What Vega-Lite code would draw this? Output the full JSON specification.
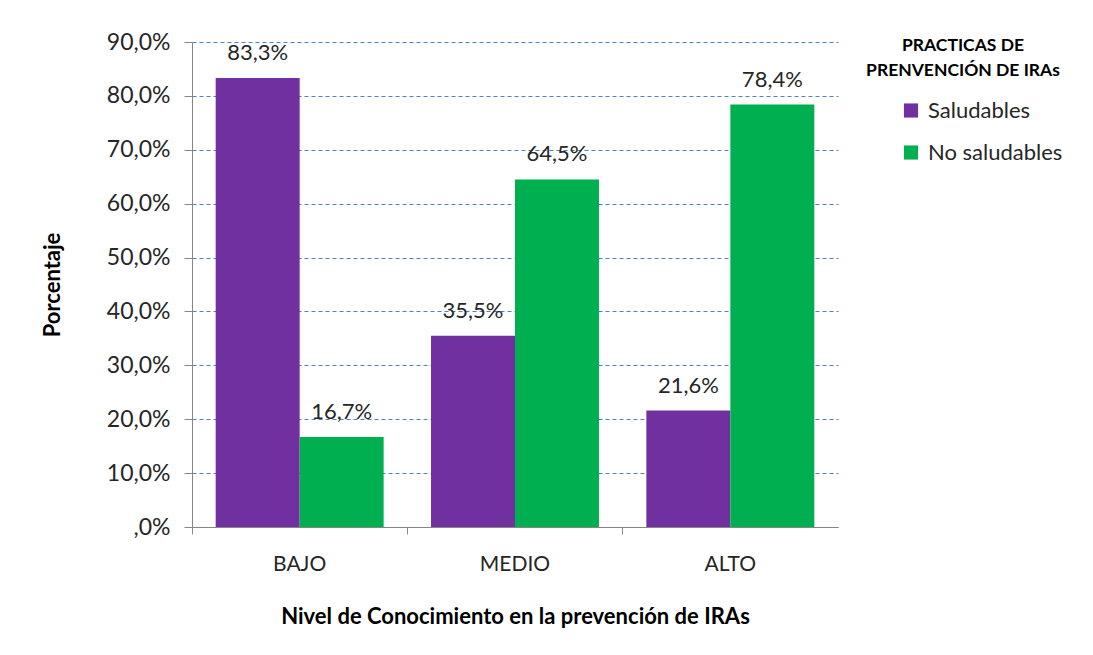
{
  "$schema": "https://vega.github.io/schema/vega-lite/v6.json",
  "width": 646,
  "height": 485,
  "autosize": {"type": "none"},
  "padding": {"left": 192, "top": 42, "right": 255, "bottom": 128},
  "background": "white",
  "config": {
    "font": "Lato",
    "view": {"stroke": null},
    "locale": {"number": {"decimal": ",", "thousands": ".", "grouping": [3], "currency": ["", " €"]}}
  },
  "data": {
    "values": [
      {"nivel": "BAJO", "practica": "Saludables", "valor": 0.833},
      {"nivel": "BAJO", "practica": "No saludables", "valor": 0.167},
      {"nivel": "MEDIO", "practica": "Saludables", "valor": 0.355},
      {"nivel": "MEDIO", "practica": "No saludables", "valor": 0.645},
      {"nivel": "ALTO", "practica": "Saludables", "valor": 0.216},
      {"nivel": "ALTO", "practica": "No saludables", "valor": 0.784}
    ]
  },
  "encoding": {
    "x": {
      "field": "nivel", "type": "nominal", "sort": ["BAJO", "MEDIO", "ALTO"],
      "scale": {"paddingInner": 0.22, "paddingOuter": 0.11},
      "axis": {
        "title": "Nivel de Conocimiento en la prevención de IRAs",
        "titleFontSize": 22, "titleFontWeight": "bold", "titleColor": "#000000",
        "titlePadding": 32,
        "labelAngle": 0, "labelFontSize": 21, "labelColor": "#262626", "labelPadding": 19,
        "domainColor": "#868686", "tickColor": "#868686", "tickSize": 7, "bandPosition": -0.14,
        "grid": false
      }
    },
    "xOffset": {"field": "practica", "type": "nominal", "sort": ["Saludables", "No saludables"], "scale": {"paddingInner": 0, "paddingOuter": 0}},
    "y": {
      "field": "valor", "type": "quantitative",
      "scale": {"domain": [0, 0.9], "nice": false},
      "axis": {
        "title": "Porcentaje",
        "titleFontSize": 22, "titleFontWeight": "bold", "titleColor": "#000000", "titlePadding": 42,
        "values": [0, 0.1, 0.2, 0.3, 0.4, 0.5, 0.6, 0.7, 0.8, 0.9],
        "labelExpr": "datum.value == 0 ? ',0%' : replace(format(datum.value * 100, '.1f'), '.', ',') + '%'",
        "labelFontSize": 23, "labelColor": "#262626", "labelPadding": 14,
        "domainColor": "#868686", "tickColor": "#868686", "tickSize": 8,
        "grid": true, "gridColor": "#4f81bd", "gridDash": [4, 3], "gridWidth": 1
      }
    }
  },
  "layer": [
    {
      "mark": {"type": "bar"},
      "encoding": {
        "color": {
          "field": "practica", "type": "nominal", "sort": ["Saludables", "No saludables"],
          "scale": {"domain": ["Saludables", "No saludables"], "range": ["#7030A0", "#00B050"]},
          "legend": {
            "orient": "none", "legendX": 672, "legendY": -5,
            "title": ["PRACTICAS DE", "PRENVENCIÓN DE IRAs"],
            "titleFontSize": 17.5, "titleFontWeight": "bold", "titleColor": "#000000", "titleLimit": 400,
            "titleAlign": "center", "titleAnchor": "middle", "titleLineHeight": 25, "titlePadding": 20,
            "labelFontSize": 22, "labelColor": "#262626", "labelOffset": 6, "labelLimit": 300,
            "symbolType": "square", "symbolSize": 200, "symbolStrokeWidth": 0, "symbolOffset": 36,
            "rowPadding": 20, "padding": 0
          }
        }
      }
    },
    {
      "mark": {"type": "text", "baseline": "bottom", "dy": -13, "fontSize": 22, "color": "#262626"},
      "encoding": {
        "text": {"field": "valor", "type": "quantitative", "format": ".1%"}
      }
    }
  ]
}
